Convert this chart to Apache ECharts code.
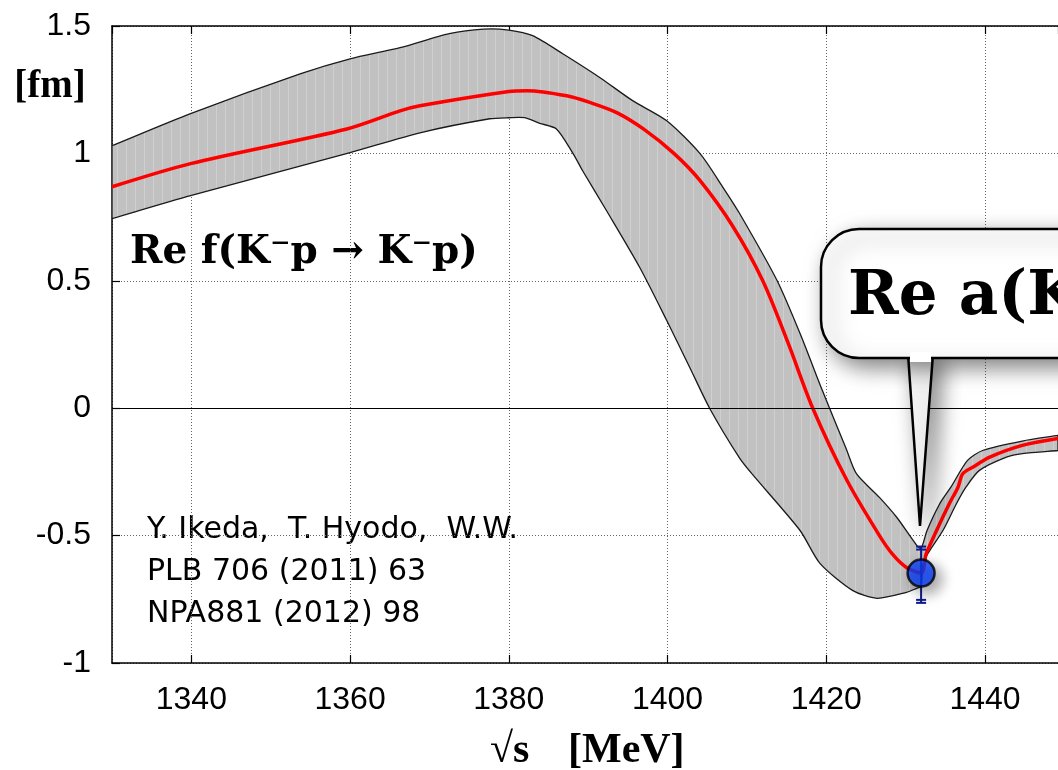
<!DOCTYPE html>
<html>
<head>
<meta charset="utf-8">
<title>Re f(K-p -> K-p)</title>
<script src="https://cdn.jsdelivr.net/npm/echarts@6/dist/echarts.min.js"></script>
<style>
  html, body { margin: 0; padding: 0; background: #fff; }
  #chart { width: 1058px; height: 770px; }
</style>
</head>
<body>
<div id="chart"></div>
<script>
// upper edge of the band (left branch, cusp at threshold, right branch)
const upperX = [1330.0, 1339.9, 1353.7, 1360.0, 1366.3, 1372.5, 1376.8, 1380.0, 1383.0, 1386.8,
  1391.5, 1395.6, 1399.9, 1404.1, 1407.0, 1409.1, 1413.8, 1416.7, 1419.5, 1422.5, 1423.8, 1426.7, 1428.9,
  1431.4, 1431.95, 1432.7, 1434.3, 1435.7, 1437.8, 1439.7, 1444.7, 1449.2];
const upperY = [1.030, 1.156, 1.312, 1.371, 1.415, 1.470, 1.488, 1.484, 1.462, 1.391,
  1.297, 1.207, 1.128, 0.999, 0.866, 0.763, 0.501, 0.293, 0.070, -0.158, -0.257, -0.350, -0.429,
  -0.538, -0.550, -0.480, -0.375, -0.310, -0.205, -0.166, -0.129, -0.107];

// lower edge of the band
const lowerX = [1330.0, 1339.9, 1360.0, 1368.8, 1377.6, 1380.0, 1382.0, 1383.9, 1386.0, 1388.1, 1389.3,
  1392.3, 1396.5, 1399.9, 1402.8, 1405.3, 1409.1, 1410.7, 1416.7, 1419.2, 1423.3, 1426.4, 1430.1, 1431.4,
  1431.95, 1432.3, 1434.7, 1436.4, 1437.6, 1439.3, 1442.7, 1444.7, 1449.2];
const lowerY = [0.744, 0.834, 1.003, 1.081, 1.136, 1.140, 1.140, 1.118, 1.096, 0.999, 0.932,
  0.776, 0.552, 0.344, 0.160, 0.000, -0.197, -0.260, -0.480, -0.609, -0.715, -0.746, -0.723, -0.707,
  -0.700, -0.600, -0.480, -0.375, -0.310, -0.244, -0.192, -0.178, -0.166];

// central curve (red)
const centralX = [1330.0, 1339.9, 1359.6, 1366.3, 1368.8, 1380.0, 1382.3, 1387.3, 1390.2, 1393.6, 1397.0,
  1400.8, 1404.1, 1408.2, 1412.0, 1415.2, 1418.3, 1422.6, 1426.7, 1428.4, 1430.1, 1431.95, 1432.6, 1433.9,
  1435.5, 1436.6, 1437.2, 1438.5, 1440.6, 1444.7, 1449.2];
const centralY = [0.869, 0.960, 1.096, 1.167, 1.187, 1.243, 1.246, 1.226, 1.200, 1.160, 1.095,
  1.000, 0.893, 0.715, 0.500, 0.255, 0.000, -0.283, -0.500, -0.575, -0.625, -0.647, -0.571, -0.480,
  -0.375, -0.310, -0.257, -0.231, -0.192, -0.146, -0.119];

// measured point with error bar
const pointX = [1431.95];
const pointY = [-0.647];
const pointLow = [-0.764];
const pointHigh = [-0.543];

const xTicks = [1340, 1360, 1380, 1400, 1420, 1440];

const zip = (xs, ys) => xs.map((x, i) => [x, ys[i]]);

// grey fill with faint vertical stripes
const stripe = document.createElement("canvas");
stripe.width = 9;
stripe.height = 2;
const sctx = stripe.getContext("2d");
sctx.fillStyle = "#c1c1c1";
sctx.fillRect(0, 0, 9, 2);
sctx.fillStyle = "#cfcfcf";
sctx.fillRect(0, 0, 1, 2);

const renderBand = (params, api) => {
  if (params.dataIndex !== 0) return;
  const up = upperX.map((x, i) => api.coord([x, upperY[i]]));
  const lo = lowerX.map((x, i) => api.coord([x, lowerY[i]])).reverse();
  // doubled end points keep the corners sharp when smoothing
  const pts = [up[0], ...up, up[up.length - 1], lo[0], ...lo, lo[lo.length - 1]];
  return {
    type: "polygon",
    shape: { points: pts, smooth: 0.25 },
    style: { fill: { image: stripe, repeat: "repeat" }, stroke: "#1a1a1a", lineWidth: 1.3 },
  };
};

const renderErr = (params, api) => {
  const x = api.value(0);
  const lo = api.coord([x, api.value(1)]);
  const hi = api.coord([x, api.value(2)]);
  const style = { stroke: "#101a8c", lineWidth: 2 };
  const cap = (p, d) => [
    { type: "line", shape: { x1: p[0] - 5, y1: p[1], x2: p[0] + 5, y2: p[1] }, style },
    { type: "line", shape: { x1: p[0] - 5, y1: p[1] + d, x2: p[0] + 5, y2: p[1] + d }, style },
  ];
  return {
    type: "group",
    children: [
      { type: "line", shape: { x1: lo[0], y1: lo[1], x2: hi[0], y2: hi[1] }, style },
      ...cap(lo, -3),
      ...cap(hi, 3),
    ],
  };
};

const shadow = { shadowBlur: 22, shadowColor: "rgba(0,0,0,0.5)", shadowOffsetX: 8, shadowOffsetY: 8 };
const refFont = "30px 'DejaVu Sans'";

const getOption = () => {
  const xCommon = {
    type: "value",
    min: 1330,
    max: 1449.2,
    minInterval: 20,
    maxInterval: 20,
  };
  return {
    animation: false,
    grid: { left: 112, right: 0, top: 26, bottom: 107 },
    xAxis: [
      {
        ...xCommon,
        position: "bottom",
        axisLine: { onZero: false, lineStyle: { color: "#000", width: 1.5 } },
        axisTick: { inside: true, length: 8, lineStyle: { color: "#000", width: 1.2 } },
        axisLabel: {
          margin: 21,
          fontSize: 32,
          fontFamily: "Liberation Sans",
          color: "#000",
          showMinLabel: false,
          showMaxLabel: false,
          formatter: (v) => (xTicks.includes(v) ? String(v) : ""),
        },
        splitLine: { show: true, lineStyle: { type: [1, 2], color: "#666", width: 1 } },
      },
      {
        ...xCommon,
        position: "top",
        axisLine: { onZero: false, lineStyle: { color: "#000", width: 1.5 } },
        axisTick: { inside: true, length: 8, lineStyle: { color: "#000", width: 1.2 } },
        axisLabel: { show: false },
        splitLine: { show: false },
      },
    ],
    yAxis: {
      type: "value",
      min: -1,
      max: 1.5,
      interval: 0.5,
      axisLine: { show: true, onZero: false, lineStyle: { color: "#000", width: 1.5 } },
      axisTick: { show: true, inside: true, length: 8, lineStyle: { color: "#000", width: 1.2 } },
      axisLabel: { margin: 21, fontSize: 32, fontFamily: "Liberation Sans", color: "#000" },
      splitLine: { show: true, lineStyle: { type: [1, 2], color: "#666", width: 1 } },
    },
    series: [
      {
        type: "custom",
        renderItem: renderBand,
        data: [[upperX[0], upperY[0]]],
        clip: true,
        z: 2,
        silent: true,
      },
      {
        type: "line",
        data: zip(centralX, centralY),
        smooth: 0.3,
        symbol: "none",
        lineStyle: { color: "#ff0000", width: 3.5 },
        z: 3,
        markLine: {
          silent: true,
          symbol: ["none", "none"],
          label: { show: false },
          lineStyle: { color: "#000", type: "solid", width: 1 },
          data: [{ yAxis: 0 }],
        },
      },
      {
        type: "custom",
        renderItem: renderErr,
        data: pointX.map((x, i) => [x, pointLow[i], pointHigh[i]]),
        z: 4,
      },
      {
        type: "scatter",
        data: zip(pointX, pointY),
        symbolSize: 27,
        itemStyle: {
          color: "#0840ff",
          borderColor: "#000",
          borderWidth: 2.5,
          shadowBlur: 14,
          shadowColor: "rgba(0,0,0,0.45)",
          shadowOffsetX: 6,
          shadowOffsetY: 6,
        },
        z: 5,
      },
    ],
    graphic: [
      {
        type: "text",
        x: 50,
        y: 87,
        style: {
          text: "[fm]",
          font: "bold 39px 'Liberation Serif'",
          fill: "#000",
          align: "center",
          verticalAlign: "middle",
        },
      },
      {
        type: "text",
        x: 490,
        y: 751,
        style: { text: "√s", font: "bold 42px 'Liberation Serif'", fill: "#000", verticalAlign: "middle" },
      },
      {
        type: "text",
        x: 568,
        y: 751,
        style: { text: "[MeV]", font: "bold 42px 'Liberation Serif'", fill: "#000", verticalAlign: "middle" },
      },
      {
        type: "text",
        x: 130,
        y: 253,
        style: { text: "Re f(K⁻p → K⁻p)", font: "bold 39px 'DejaVu Serif'", fill: "#000", verticalAlign: "middle" },
      },
      {
        type: "text",
        x: 147,
        y: 530,
        style: { text: "Y. Ikeda,  T. Hyodo,  W.W.", font: refFont, fill: "#000", verticalAlign: "middle" },
      },
      {
        type: "text",
        x: 147,
        y: 572,
        style: { text: "PLB 706 (2011) 63", font: refFont, fill: "#000", verticalAlign: "middle" },
      },
      {
        type: "text",
        x: 147,
        y: 614,
        style: { text: "NPA881 (2012) 98", font: refFont, fill: "#000", verticalAlign: "middle" },
      },
      // speech bubble
      {
        type: "polygon",
        z: 100,
        shape: { points: [[908, 354], [920, 526], [933, 354]] },
        style: { fill: "#fff", stroke: "#000", lineWidth: 2.5, ...shadow },
      },
      {
        type: "rect",
        z: 101,
        shape: { x: 821, y: 229, width: 420, height: 129, r: 38 },
        style: { fill: "#fff", stroke: "#000", lineWidth: 2.5, ...shadow },
      },
      {
        type: "rect",
        z: 102,
        shape: { x: 910, y: 352, width: 21, height: 10 },
        style: { fill: "#fff" },
      },
      {
        type: "text",
        z: 103,
        x: 848,
        y: 298,
        style: { text: "Re a(K⁻p)", font: "bold 61px 'DejaVu Serif'", fill: "#000", verticalAlign: "middle" },
      },
    ],
  };
};

const initChart = () => {
  const chart = echarts.init(document.getElementById("chart"));
  chart.setOption(getOption());
};

window.addEventListener("load", () => {
  initChart();
});
</script>
</body>
</html>
